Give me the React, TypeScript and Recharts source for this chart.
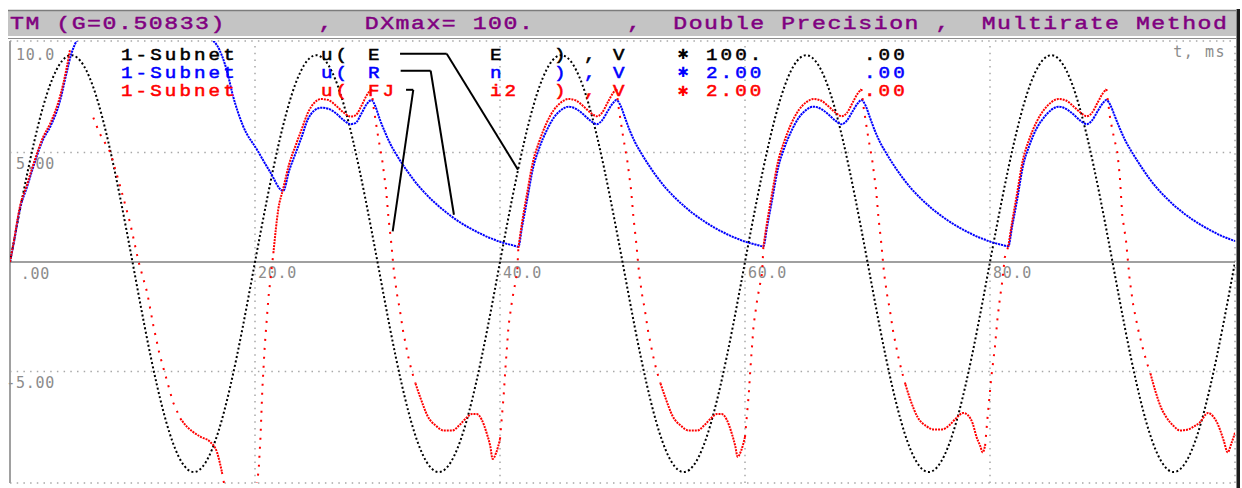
import { ComposedChart, Line, XAxis, YAxis, ReferenceLine } from 'recharts'

// ---- data (t in ms, values in scaled volts) ----

// source voltage u(E), sampled every 1 ms
const blackStepMs = 1
const blackVolts = [
  0, 2.92, 5.55, 7.65, 8.99, 9.45, 8.99, 7.65, 5.55, 2.92,
  0, -2.97, -5.64, -7.77, -9.13, -9.6, -9.13, -7.77, -5.64, -2.97,
  0, 2.92, 5.55, 7.65, 8.99, 9.45, 8.99, 7.65, 5.55, 2.92,
  0, -2.97, -5.64, -7.77, -9.13, -9.6, -9.13, -7.77, -5.64, -2.97,
  0, 2.92, 5.55, 7.65, 8.99, 9.45, 8.99, 7.65, 5.55, 2.92,
  0, -2.97, -5.64, -7.77, -9.13, -9.6, -9.13, -7.77, -5.64, -2.97,
  0, 2.92, 5.55, 7.65, 8.99, 9.45, 8.99, 7.65, 5.55, 2.92,
  0, -2.97, -5.64, -7.77, -9.13, -9.6, -9.13, -7.77, -5.64, -2.97,
  0, 2.92, 5.55, 7.65, 8.99, 9.45, 8.99, 7.65, 5.55, 2.92,
  0, -2.97, -5.64, -7.77, -9.13, -9.6, -9.13, -7.77, -5.64, -2.97,
  0,
]

// u(R,n) blue
const bluePoints: [number, number][] = [
  [0, 0], [0.3, 0.85], [0.8, 2.4], [1.4, 3.45], [1.9, 4.35], [2.7, 5.6], [3.3, 6.2], [4.1, 7.4], [4.6, 8.6], [5.0, 9.5], [5.3, 9.95],
  [6, 10.4], [8, 10.7], [10, 10.8], [12, 10.8], [14, 10.6], [16, 10.3], [16.9, 9.9], [17.7, 8.75], [18.2, 7.6], [19.0, 6.25],
  [20.2, 5.1], [21.2, 4.15], [22.3, 3.25],
  [22.8, 4.2], [23.3, 4.95], [23.8, 5.7], [24.3, 6.5], [24.8, 6.9], [25.4, 7.05], [26.0, 7.0], [26.6, 6.8], [27.2, 6.5], [27.8, 6.3],
  [28.2, 6.35], [28.7, 6.8], [29.1, 7.2], [29.5, 7.4], [29.8, 7.15], [30.2, 6.5], [30.6, 5.95], [31.0, 5.45], [31.5, 4.95], [32.0, 4.5],
  [32.5, 4.1], [33.0, 3.72], [33.5, 3.38], [34.0, 3.08], [34.5, 2.8], [35.0, 2.55], [35.5, 2.32], [36.0, 2.1], [36.5, 1.9], [37.0, 1.72],
  [37.5, 1.56], [38.0, 1.41], [38.5, 1.27], [39.0, 1.14], [39.5, 1.03], [40.0, 0.92], [40.5, 0.84], [41.0, 0.77], [41.5, 0.7],
  [41.8, 1.6], [42.2, 2.8], [42.7, 4.3], [43.2, 5.2], [43.8, 6.0], [44.4, 6.6], [45.0, 6.95], [45.6, 7.1], [46.2, 7.0], [46.8, 6.75],
  [47.4, 6.45], [47.9, 6.3], [48.3, 6.45], [48.8, 6.9], [49.2, 7.25], [49.5, 7.4], [49.8, 7.2], [50.2, 6.6], [50.6, 6.0], [51.0, 5.5],
  [51.5, 5.0], [52.0, 4.55], [52.5, 4.13], [53.0, 3.75], [53.5, 3.4], [54.0, 3.1], [54.5, 2.82], [55.0, 2.57], [55.5, 2.33], [56.0, 2.12],
  [56.5, 1.92], [57.0, 1.74], [57.5, 1.57], [58.0, 1.42], [58.5, 1.28], [59.0, 1.15], [59.5, 1.04], [60.0, 0.93], [60.5, 0.85], [61.0, 0.78],
  [61.5, 0.71],
  [61.8, 1.6], [62.2, 2.8], [62.7, 4.3], [63.2, 5.2], [63.8, 6.0], [64.4, 6.6], [65.0, 6.95], [65.6, 7.1], [66.2, 7.0], [66.8, 6.75],
  [67.4, 6.45], [67.9, 6.3], [68.3, 6.45], [68.8, 6.9], [69.2, 7.25], [69.5, 7.4], [69.8, 7.2], [70.2, 6.6], [70.6, 6.0], [71.0, 5.5],
  [71.5, 5.0], [72.0, 4.55], [72.5, 4.13], [73.0, 3.75], [73.5, 3.4], [74.0, 3.1], [74.5, 2.82], [75.0, 2.57], [75.5, 2.33], [76.0, 2.12],
  [76.5, 1.92], [77.0, 1.74], [77.5, 1.57], [78.0, 1.42], [78.5, 1.28], [79.0, 1.15], [79.5, 1.04], [80.0, 0.93], [80.5, 0.85], [81.0, 0.78],
  [81.5, 0.72],
  [81.8, 1.6], [82.2, 2.8], [82.7, 4.4], [83.2, 5.3], [83.8, 6.1], [84.4, 6.6], [85.0, 6.95], [85.6, 7.1], [86.2, 7.0], [86.8, 6.75],
  [87.4, 6.45], [87.9, 6.3], [88.3, 6.45], [88.8, 6.9], [89.2, 7.25], [89.5, 7.4], [89.8, 7.2], [90.2, 6.65], [90.6, 6.1], [91.0, 5.6],
  [91.5, 5.1], [92.0, 4.65], [92.5, 4.22], [93.0, 3.82], [93.5, 3.46], [94.0, 3.15], [94.5, 2.87], [95.0, 2.6], [95.5, 2.37], [96.0, 2.15],
  [96.5, 1.95], [97.0, 1.77], [97.5, 1.6], [98.0, 1.45], [98.5, 1.3], [99.0, 1.17], [99.5, 1.06], [100, 0.96],
]

// u(FJ,i2) red, slowly varying parts (dense trace)
const redSlowPoints: [number, number | null][] = [
  [0, 0], [0.3, 0.9], [0.8, 2.5], [1.4, 3.55], [1.9, 4.45], [2.7, 5.7], [3.3, 6.35], [4.1, 7.6], [4.6, 8.8], [4.9, 9.7], [5.0, null],
  [13.9, -7.15], [14.4, -7.5], [14.9, -7.75], [15.6, -8.0], [16.3, -8.2], [16.9, -8.7], [17.3, -9.6], [17.4, null],
  [21.5, 0.4], [21.9, 2.4], [22.3, 3.35], [22.8, 4.5], [23.3, 5.3], [23.8, 6.05], [24.3, 6.8], [24.8, 7.25], [25.4, 7.45], [26.0, 7.4],
  [26.6, 7.15], [27.2, 6.85], [27.8, 6.65], [28.2, 6.7], [28.7, 7.15], [29.1, 7.6], [29.5, 7.9], [29.6, null],
  [33.1, -5.55], [33.5, -6.2], [34.1, -7.05], [34.8, -7.5], [35.4, -7.7], [36.1, -7.7], [36.7, -7.45], [37.3, -7.1], [37.7, -6.95],
  [38.1, -6.95], [38.5, -7.2], [38.9, -7.8], [39.2, -8.4], [39.4, -9.0], [39.7, -8.7], [40.0, -8.1], [40.1, null],
  [41.5, 0.65], [41.8, 1.8], [42.2, 3.1], [42.7, 4.6], [43.2, 5.5], [43.8, 6.35], [44.4, 6.95], [45.0, 7.3], [45.6, 7.45], [46.2, 7.38],
  [46.8, 7.12], [47.4, 6.82], [47.9, 6.66], [48.3, 6.8], [48.8, 7.3], [49.2, 7.7], [49.5, 7.9], [49.6, null],
  [53.1, -5.55], [53.5, -6.2], [54.1, -7.05], [54.8, -7.5], [55.4, -7.7], [56.1, -7.7], [56.7, -7.45], [57.3, -7.1], [57.7, -6.95],
  [58.1, -6.95], [58.5, -7.2], [58.9, -7.8], [59.2, -8.4], [59.4, -8.9], [59.7, -8.6], [60.0, -8.0], [60.1, null],
  [61.5, 0.7], [61.8, 1.8], [62.2, 3.1], [62.7, 4.6], [63.2, 5.5], [63.8, 6.35], [64.4, 6.95], [65.0, 7.3], [65.6, 7.45], [66.2, 7.38],
  [66.8, 7.12], [67.4, 6.82], [67.9, 6.66], [68.3, 6.8], [68.8, 7.3], [69.2, 7.7], [69.5, 7.9], [69.6, null],
  [73.1, -5.6], [73.5, -6.3], [74.1, -7.1], [74.8, -7.5], [75.4, -7.65], [76.1, -7.65], [76.7, -7.45], [77.3, -7.1], [77.8, -6.9],
  [78.2, -7.0], [78.6, -7.4], [78.9, -8.0], [79.2, -8.4], [79.4, -8.7], [79.6, -8.4], [79.7, null],
  [81.5, 0.72], [81.8, 1.8], [82.2, 3.1], [82.7, 4.7], [83.2, 5.6], [83.8, 6.4], [84.4, 6.95], [85.0, 7.3], [85.6, 7.45], [86.2, 7.38],
  [86.8, 7.12], [87.4, 6.82], [87.9, 6.66], [88.3, 6.8], [88.8, 7.3], [89.2, 7.7], [89.5, 7.9], [89.6, null],
  [93.1, -5.1], [93.5, -5.9], [94.0, -6.7], [94.4, -7.1], [95.0, -7.5], [95.5, -7.7], [96.2, -7.65], [96.7, -7.5], [97.1, -7.35],
  [97.8, -6.9], [98.2, -7.05], [98.5, -7.3], [98.8, -7.7], [99.1, -8.2], [99.4, -8.7], [99.7, -8.3], [100, -7.8],
]

// red, fast transitions (sparse samples)
const redFastPoints: [number, number | null][] = [
  [6.8, 6.6], [7.3, 5.9], [8.2, 5.0], [9.0, 3.45], [9.8, 1.8], [10.5, 0], [11.2, -1.4], [11.7, -2.9], [12.2, -4.2], [12.8, -5.4],
  [13.3, -6.4], [13.9, -7.15], [14.0, null],
  [17.3, -9.6], [17.6, -10.5], [18.5, -11.2], [19.5, -11.0], [20.1, -10.4], [20.3, -9.5], [20.45, -8.0], [20.6, -5.8], [20.8, -3.8],
  [21.1, -1.6], [21.5, 0.4], [21.6, null],
  [29.5, 7.9], [29.7, 7.0], [30.0, 5.9], [30.4, 4.6], [30.7, 3.3], [30.9, 2.0], [31.1, 1.0], [31.35, -0.5], [31.6, -1.5], [31.8, -2.1],
  [32.1, -3.2], [32.5, -4.3], [32.8, -5.0], [33.1, -5.55], [33.2, null],
  [40.0, -8.1], [40.3, -6.1], [40.45, -4.8], [40.7, -2.9], [40.85, -2.3], [41.0, -1.7], [41.2, -1.1], [41.4, -0.5], [41.5, 0.65], [41.6, null],
  [49.5, 7.9], [49.7, 7.0], [50.0, 5.9], [50.4, 4.6], [50.7, 3.3], [50.9, 2.0], [51.1, 1.0], [51.35, -0.5], [51.6, -1.5], [51.8, -2.1],
  [52.1, -3.2], [52.5, -4.3], [52.8, -5.0], [53.1, -5.55], [53.2, null],
  [60.0, -8.0], [60.3, -6.1], [60.45, -4.8], [60.7, -2.9], [60.85, -2.3], [61.0, -1.7], [61.2, -1.1], [61.4, -0.5], [61.5, 0.7], [61.6, null],
  [69.5, 7.9], [69.7, 7.0], [70.0, 5.9], [70.4, 4.6], [70.7, 3.3], [70.9, 2.0], [71.1, 1.0], [71.35, -0.5], [71.6, -1.5], [71.8, -2.1],
  [72.1, -3.2], [72.5, -4.3], [72.8, -5.0], [73.1, -5.6], [73.2, null],
  [79.6, -8.4], [79.8, -7.1], [80.1, -5.3], [80.4, -3.9], [80.6, -2.65], [80.8, -1.7], [81.0, -0.9], [81.2, 0.2], [81.5, 0.72], [81.6, null],
  [89.5, 7.9], [89.8, 6.6], [90.0, 6.0], [90.4, 5.0], [90.6, 3.9], [90.8, 2.1], [91.1, 1.0], [91.4, -0.8], [91.7, -2.0], [92.1, -3.1],
  [92.5, -4.0], [92.8, -4.6], [93.1, -5.1],
]

// label pointer lines drawn from the legend names into the plot
const pointerLines: [number, number, number, number][] = [
  [31.84, 9.52, 35.65, 9.52], [35.65, 9.52, 41.47, 4.22],
  [31.89, 8.74, 34.34, 8.74], [34.34, 8.74, 36.24, 2.16],
  [32.33, 7.87, 32.92, 7.87], [32.92, 7.87, 31.24, 1.4],
]

const xGrid = [20, 40, 60, 80]
const xTickLabels = ['20.0', '40.0', '60.0', '80.0']
const yGrid = [5, -5]
const yTicks = [10, 5, 0, -5]
const yTickLabels = ['10.0', '5.00', '.00', '-5.00']

const header = 'TM (G=0.50833)      ,  DXmax= 100.      ,  Double Precision ,  Multirate Method'

const legendRows = [
  { color: '#000000', parts: ['1-Subnet', 'u(', 'E', 'E', ')', ',', 'V', '100.', '.00'] },
  { color: '#0000ff', parts: ['1-Subnet', 'u(', 'R', 'n', ')', ',', 'V', '2.00', '.00'] },
  { color: '#ff0000', parts: ['1-Subnet', 'u(', 'FJ', 'i2', ')', ',', 'V', '2.00', '.00'] },
]
const legendCols = [121, 321, 368, 490, 554, 584, 613, 706, 864]

const toPoints = (pts: [number, number | null][]) => pts.map(([t, v]) => ({ t, v }))
const blackData = blackVolts.map((v, i) => ({ t: i * blackStepMs, v }))
const blueData = toPoints(bluePoints)
const redSlowData = toPoints(redSlowPoints)
const redFastData = toPoints(redFastPoints)

const GRID = '#a8a8a8'
const TICK = '#8c8c8c'
const mono = '"Liberation Mono", "DejaVu Sans Mono", monospace'
const tickFont = '"DejaVu Sans Mono", monospace'
const DOTTED = '1.5 5.2'

export default function App() {
  return (
    <div style={{ position: 'absolute', left: 0, top: 0, width: 1242, height: 488, background: '#fff' }}>
      <ComposedChart width={1242} height={488} margin={{ top: 41, right: 7, bottom: 5, left: 10 }}>
        <XAxis type="number" dataKey="t" domain={[0, 100]} hide allowDataOverflow />
        <YAxis type="number" domain={[-10.1, 10.1]} hide allowDataOverflow />

        {/* frame and grid */}
        <ReferenceLine y={10.1} stroke={GRID} strokeWidth={1.5} strokeDasharray={DOTTED} ifOverflow="visible" />
        <ReferenceLine y={-10.1} stroke={GRID} strokeWidth={1.5} strokeDasharray={DOTTED} ifOverflow="visible" />
        <ReferenceLine x={100} stroke={GRID} strokeWidth={1.5} strokeDasharray={DOTTED} ifOverflow="visible" />
        {yGrid.map((v) => (
          <ReferenceLine key={'yg' + v} y={v} stroke={GRID} strokeWidth={1.5} strokeDasharray={DOTTED} />
        ))}
        {xGrid.map((v) => (
          <ReferenceLine key={'xg' + v} x={v} stroke={GRID} strokeWidth={1.5} strokeDasharray={DOTTED} />
        ))}
        <ReferenceLine y={0} stroke="#a0a0a0" strokeWidth={2} />
        <ReferenceLine x={0} stroke="#a0a0a0" strokeWidth={2} ifOverflow="visible" />

        {/* tick labels */}
        {yTicks.map((v, i) => (
          <ReferenceLine
            key={'yt' + v}
            y={v}
            stroke="none"
            label={(p: any) => (
              <text
                x={p.viewBox.x + (v === 0 ? 40 : 45)}
                y={p.viewBox.y + 16.5}
                textAnchor="end"
                fill={TICK}
                fontSize={15}
                fontFamily={tickFont}
                letterSpacing={0.7}
              >
                {yTickLabels[i]}
              </text>
            )}
          />
        ))}
        {xGrid.map((v, i) => (
          <ReferenceLine
            key={'xt' + v}
            x={v}
            stroke="none"
            label={(p: any) => (
              <text
                x={p.viewBox.x + 3}
                y={p.viewBox.y + p.viewBox.height / 2 + 16}
                fill={TICK}
                fontSize={15}
                fontFamily={tickFont}
                letterSpacing={0.7}
              >
                {xTickLabels[i]}
              </text>
            )}
          />
        ))}

        <Line data={blackData} dataKey="v" type="natural" stroke="#000" strokeWidth={2}
          strokeDasharray="2 2.4" dot={false} activeDot={false} isAnimationActive={false} />
        <Line data={blueData} dataKey="v" type="monotone" stroke="#0000ff" strokeWidth={2}
          strokeDasharray="2.2 0.8" dot={false} activeDot={false} isAnimationActive={false} />
        <Line data={redSlowData} dataKey="v" type="monotone" stroke="#ff0000" strokeWidth={2}
          strokeDasharray="2 1" dot={false} activeDot={false} isAnimationActive={false} />
        <Line data={redFastData} dataKey="v" type="linear" stroke="#ff0000" strokeWidth={2}
          strokeDasharray="2 7" dot={false} activeDot={false} isAnimationActive={false} />

        {pointerLines.map(([x1, y1, x2, y2], i) => (
          <ReferenceLine key={'pl' + i} segment={[{ x: x1, y: y1 }, { x: x2, y: y2 }]} stroke="#000" strokeWidth={2} />
        ))}
      </ComposedChart>

      <svg width={1242} height={488} style={{ position: 'absolute', left: 0, top: 0, pointerEvents: 'none' }}>
        {/* title bar */}
        <rect x={8} y={10} width={1228} height={26} fill="#c4c4c4" />
        <line x1={8} y1={10.5} x2={1236} y2={10.5} stroke="#7c7c7c" strokeWidth={1.5} />
        <line x1={8} y1={38.5} x2={1236} y2={38.5} stroke="#8c8c8c" strokeWidth={1} />
        <rect x={1236.5} y={9} width={3.5} height={479} fill="#1a1a1a" />
        <text
          transform="translate(10 29) scale(1.22 1)"
          fill="#800080"
          stroke="#800080"
          strokeWidth={0.45}
          fontSize={19}
          fontFamily={mono}
          textLength={997.5}
          lengthAdjust="spacing"
          xmlSpace="preserve"
          style={{ whiteSpace: 'pre' }}
        >
          {header}
        </text>

        {/* series labels */}
        {legendRows.map((row, r) => (
          <g key={r} fill={row.color} stroke={row.color} strokeWidth={0.5} fontFamily={mono} fontSize={16} letterSpacing={2.57}>
            {row.parts.map((txt, c) => (
              <text key={c} transform={`translate(${legendCols[c]} ${59.5 + r * 18.3}) scale(1.2 1)`}>{txt}</text>
            ))}
            <text x={683} y={59 + r * 18.3} textAnchor="middle" fontFamily="DejaVu Sans" strokeWidth={0}
              fontSize={14} letterSpacing={0}>✱</text>
          </g>
        ))}

        <text x={1226} y={57} textAnchor="end" fill={TICK} fontSize={15} fontFamily={tickFont} letterSpacing={1.5}>
          t, ms
        </text>
      </svg>
    </div>
  )
}
